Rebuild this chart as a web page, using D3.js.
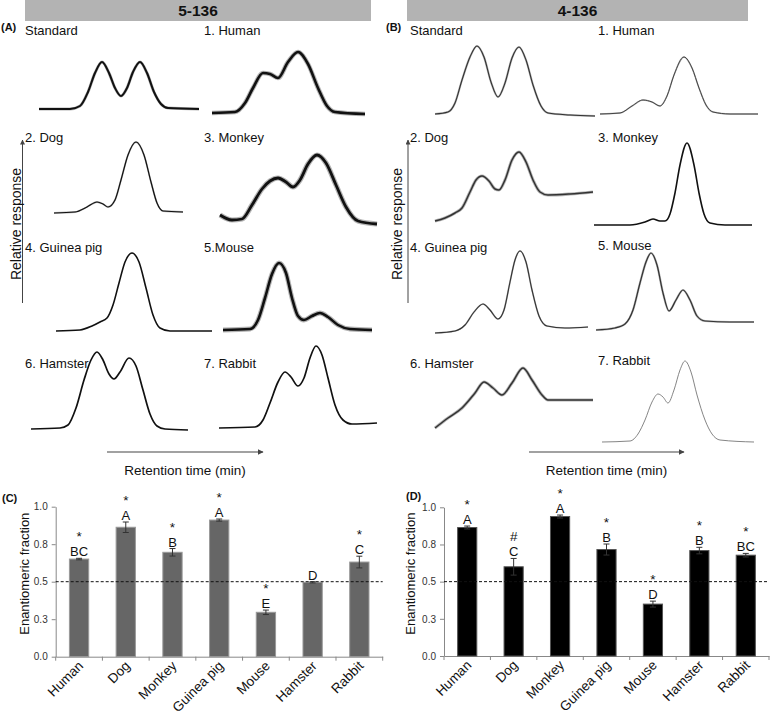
<!DOCTYPE html>
<html><head><meta charset="utf-8">
<script src="https://cdn.jsdelivr.net/npm/d3@7"></script>
<style>body{margin:0;background:#fff}svg{display:block}</style>
</head><body>
<script>
// ---------------- DATA ----------------
// Chromatogram traces: [retention time (a.u.), relative response (a.u.)]
const a_standard = [[0.9,11],[4.0,11],[5.0,14],[5.8,28],[6.5,47],[7.2,58],[7.9,47],[8.5,32],[9.1,24],[9.7,32],[10.3,48],[11.0,58],[11.7,47],[12.4,28],[13.1,16],[13.8,12],[16.9,11]];
const a_human    = [[0.2,7],[2.5,8],[3.5,17],[4.3,32],[5.3,47],[6.0,46],[6.8,42],[7.8,58],[8.8,68],[9.8,56],[10.8,32],[11.7,14],[12.5,8],[15.5,6]];
const a_dog      = [[2.4,17],[4.5,18],[5.7,23],[6.7,28],[7.3,26],[7.8,23],[8.5,30],[9.1,50],[9.8,75],[10.6,88],[11.4,75],[12.1,48],[12.7,27],[13.3,19],[15.3,18]];
const a_monkey   = [[1.0,15],[2.2,10],[3.2,11],[4.2,25],[5.2,41],[6.0,49],[6.8,52],[7.6,48],[8.3,43],[9.0,50],[9.8,66],[10.7,75],[11.6,67],[12.6,45],[13.6,23],[14.8,9],[16.7,6]];
const a_guinea   = [[2.6,9],[5.0,10],[6.2,14],[7.0,18],[7.7,22],[8.3,35],[8.9,57],[9.5,78],[10.2,87],[10.9,78],[11.6,52],[12.3,25],[13.0,12],[14.0,9],[18.2,9]];
const a_mouse    = [[1.3,10],[4.0,11],[4.8,20],[5.5,42],[6.2,66],[6.9,77],[7.6,67],[8.2,42],[8.8,24],[9.4,20],[10.2,24],[11.0,27],[11.8,23],[12.8,15],[14.0,11],[16.2,10]];
const a_hamster  = [[0.1,16],[3.0,17],[3.8,20],[4.6,37],[5.4,65],[6.1,85],[6.7,93],[7.3,85],[7.9,71],[8.4,66],[9.0,73],[9.9,87],[10.6,79],[11.3,55],[12.0,31],[12.7,19],[13.5,16],[15.8,15]];
const a_rabbit   = [[0.9,17],[4.5,18],[5.3,25],[6.0,42],[6.8,63],[7.5,73],[8.1,68],[8.8,59],[9.4,67],[10.0,87],[10.6,99],[11.2,90],[11.8,67],[12.5,40],[13.3,25],[14.2,21],[16.7,22]];

const b_standard = [[0.5,6],[1.8,8],[2.5,17],[3.2,40],[4.0,63],[4.7,74],[5.4,63],[6.1,38],[6.8,23],[7.5,37],[8.2,62],[8.9,73],[9.6,60],[10.3,35],[11.1,14],[11.8,7],[14.0,5],[16.5,4]];
const b_human    = [[0.8,6],[2.8,7],[4.0,14],[5.1,20],[6.0,18],[6.8,14],[7.5,24],[8.2,45],[9.2,63],[10.0,52],[10.7,32],[11.4,15],[12.1,8],[13.8,6],[16.6,6]];
const b_dog      = [[0.5,9],[1.5,12],[2.5,17],[3.2,22],[4.0,38],[4.6,50],[5.2,54],[5.9,49],[6.5,41],[6.9,40],[7.5,50],[8.2,70],[8.9,78],[9.6,68],[10.3,50],[11.0,38],[11.8,35],[14.0,36],[16.3,38]];
const b_monkey   = [[0.2,5],[3.8,5],[5.3,8],[6.1,11],[6.8,9],[7.3,9],[7.8,16],[8.3,37],[8.8,65],[9.5,87],[10.2,65],[10.7,37],[11.2,16],[11.8,7],[13.3,5],[16.0,5]];
const b_guinea   = [[0.5,7],[2.5,9],[3.5,15],[4.4,28],[5.3,36],[6.0,30],[6.8,21],[7.4,30],[8.0,58],[8.5,80],[9.0,89],[9.6,78],[10.2,50],[10.9,24],[11.7,14],[13.5,12],[15.8,13]];
const b_mouse    = [[0.4,10],[2.3,12],[3.3,16],[4.1,30],[4.8,57],[5.4,78],[5.9,87],[6.5,75],[7.1,47],[7.7,29],[8.4,40],[9.1,50],[9.8,40],[10.5,24],[11.3,19],[13.8,18],[16.2,18]];
const b_hamster  = [[0.5,17],[1.8,27],[3.2,37],[4.5,52],[5.4,63],[6.3,57],[7.2,50],[8.2,62],[9.3,77],[10.2,65],[11.2,50],[11.8,45],[16.3,45]];
const b_rabbit   = [[1.0,3],[3.8,4],[4.6,11],[5.3,25],[6.0,43],[6.6,51],[7.1,48],[7.6,42],[8.2,55],[8.8,75],[9.3,84],[9.9,73],[10.5,50],[11.3,25],[12.0,11],[12.8,5],[16.2,3]];

const traceTitlesA = ["Standard","1. Human","2. Dog","3. Monkey","4. Guinea pig","5.Mouse","6. Hamster","7. Rabbit"];
const traceTitlesB = ["Standard","1. Human","2. Dog","3. Monkey","4. Guinea pig","5. Mouse","6. Hamster","7. Rabbit"];
const compoundA = "5-136";
const compoundB = "4-136";

// Bar charts
const categories = ["Human","Dog","Monkey","Guinea pig","Mouse","Hamster","Rabbit"];
const fracC = [0.651, 0.863, 0.696, 0.911, 0.296, 0.496, 0.631];
const errC  = [0.005, 0.035, 0.025, 0.007, 0.015, 0.004, 0.039];
const sigC  = ["*","*","*","*","*","","*"];
const grpC  = ["BC","A","B","A","E","D","C"];
const fracD = [0.864, 0.600, 0.938, 0.716, 0.349, 0.709, 0.678];
const errD  = [0.010, 0.056, 0.010, 0.037, 0.020, 0.022, 0.012];
const sigD  = ["*","#","*","*","*","*","*"];
const grpD  = ["A","C","A","B","D","B","BC"];
const yTicks = [0, 0.25, 0.5, 0.75, 1.0];
const yTickLabels = ["0.0","0.3","0.5","0.8","1.0"];
const refLine = 0.5;

// ---------------- LAYOUT / STYLE ----------------
const FONT = '"Liberation Sans", Arial, Helvetica, sans-serif';
const W = 770, H = 717;
const svg = d3.select("body").append("svg").attr("width", W).attr("height", H)
  .style("font-family", FONT);
svg.append("rect").attr("width", W).attr("height", H).attr("fill", "#fff");

const defs = svg.append("defs");
defs.append("marker").attr("id","arr").attr("viewBox","0 0 10 10").attr("refX",9).attr("refY",5)
  .attr("markerWidth",5).attr("markerHeight",5).attr("orient","auto-start-reverse")
  .append("path").attr("d","M0,0L10,5L0,10z").attr("fill","#444");

// header bars
function header(x0, x1, label) {
  svg.append("rect").attr("x", x0).attr("y", 0).attr("width", x1 - x0).attr("height", 21).attr("fill", "#b3b3b3");
  svg.append("text").attr("x", (x0 + x1) / 2).attr("y", 16).attr("text-anchor", "middle")
    .attr("font-size", 15.5).attr("font-weight", "bold").attr("fill", "#111").text(label);
}
header(25, 371, compoundA);
header(407, 748, compoundB);

function panelLabel(x, y, t) {
  svg.append("text").attr("x", x).attr("y", y).attr("font-size", 11).attr("font-weight", "bold").attr("fill", "#111").text(t);
}
panelLabel(1, 31, "(A)");
panelLabel(386, 31, "(B)");
panelLabel(2, 502, "(C)");
panelLabel(406, 500, "(D)");

// chromatogram cells
const colLeftA = [30, 210], colLeftB = [430, 592];
const rowBottom = [120, 230, 340, 445];
const titleYs = [35, 142, 252, 368];
const titleXA = [25, 204], titleXB = [410, 598];
const tracesA = [a_standard, a_human, a_dog, a_monkey, a_guinea, a_mouse, a_hamster, a_rabbit];
const tracesB = [b_standard, b_human, b_dog, b_monkey, b_guinea, b_mouse, b_hamster, b_rabbit];
const styleA = [
  {w:2.0,c:"#111",n:1}, {w:2.6,c:"#111",n:2}, {w:1.2,c:"#111",n:0.6}, {w:2.8,c:"#111",n:2.4},
  {w:1.6,c:"#111",n:0}, {w:2.6,c:"#111",n:2.2}, {w:1.7,c:"#111",n:0}, {w:1.7,c:"#111",n:0}];
const styleB = [
  {w:1.1,c:"#333",n:1}, {w:1.0,c:"#444",n:0.5}, {w:1.5,c:"#333",n:1.6}, {w:1.6,c:"#111",n:0},
  {w:1.1,c:"#333",n:0.6}, {w:1.2,c:"#333",n:1}, {w:1.5,c:"#333",n:1.6}, {w:0.8,c:"#666",n:0}];
const titleYOffB = [0, 0, 0, 0, 0, -2, 0, -3];

function drawTraces(traces, titles, lefts, titleXs, styles, yOff) {
  traces.forEach((tr, i) => {
    const col = i % 2, row = Math.floor(i / 2);
    const x = d3.scaleLinear().domain([0, 16]).range([lefts[col], lefts[col] + 160]);
    const y = d3.scaleLinear().domain([0, 100]).range([rowBottom[row], rowBottom[row] - 100]);
    const line = d3.line().x(d => x(d[0])).y(d => y(d[1])).curve(d3.curveMonotoneX);
    const st = styles[i];
    if (st.n > 0) {
      svg.append("path").attr("d", line(tr)).attr("fill", "none").attr("stroke", "#777")
        .attr("stroke-opacity", 0.55).attr("stroke-width", st.w + st.n).attr("stroke-linejoin","round");
    }
    svg.append("path").attr("d", line(tr)).attr("fill", "none").attr("stroke", st.c)
      .attr("stroke-width", st.w).attr("stroke-linejoin","round");
    svg.append("text").attr("x", titleXs[col]).attr("y", titleYs[row] + (yOff ? yOff[i] : 0))
      .attr("font-size", 13).attr("fill", "#111").text(titles[i]);
  });
}
drawTraces(tracesA, traceTitlesA, colLeftA, titleXA, styleA, null);
drawTraces(tracesB, traceTitlesB, colLeftB, titleXB, styleB, titleYOffB);

// response axes and retention arrows
function respAxis(xl, xt) {
  svg.append("line").attr("x1", xl).attr("x2", xl).attr("y1", 303).attr("y2", 140)
    .attr("stroke", "#444").attr("stroke-width", 1).attr("marker-end", "url(#arr)");
  svg.append("text").attr("transform", `translate(${xt},224) rotate(-90)`).attr("text-anchor", "middle")
    .attr("font-size", 14).attr("fill", "#111").text("Relative response");
}
respAxis(22.5, 21);
respAxis(408, 402);
function timeAxis(x0, x1) {
  svg.append("line").attr("x1", x0).attr("x2", x1).attr("y1", 452).attr("y2", 452)
    .attr("stroke", "#444").attr("stroke-width", 1.2).attr("marker-end", "url(#arr)");
  svg.append("text").attr("x", (x0 + x1) / 2).attr("y", 475).attr("text-anchor", "middle")
    .attr("font-size", 13.5).attr("fill", "#111").text("Retention time (min)");
}
timeAxis(107, 263);
timeAxis(529, 684);

// bar charts
function drawBars(x0, x1, yb, yt, vals, errs, sigs, grps, fill, edge, titleX) {
  const x = d3.scaleBand().domain(categories).range([x0, x1]).paddingInner(0.587).paddingOuter(0.2935);
  const y = d3.scaleLinear().domain([0, 1]).range([yb, yt]);
  const g = svg.append("g");
  // y axis
  const ya = g.append("g").attr("transform", `translate(${x0},0)`)
    .call(d3.axisLeft(y).tickValues(yTicks).tickFormat((d, i) => yTickLabels[i]).tickSize(4).tickSizeOuter(0));
  ya.select(".domain").attr("stroke", "#888");
  ya.selectAll(".tick line").attr("stroke", "#888");
  ya.selectAll(".tick text").attr("font-size", 10).attr("fill", "#333").attr("font-family", FONT).attr("x", -8);
  // x axis
  const xa = g.append("g").attr("transform", `translate(0,${yb})`)
    .call(d3.axisBottom(x).tickSize(0).tickSizeOuter(0));
  xa.select(".domain").attr("stroke", "#888");
  xa.selectAll(".tick text").attr("font-size", 13.5).attr("fill", "#111").attr("font-family", FONT)
    .attr("text-anchor", "end").attr("dy", 0).attr("y", 0)
    .attr("transform", "translate(5,10) rotate(-45)");
  // boundary ticks
  const step = x.step();
  d3.range(categories.length + 1).forEach(i => {
    g.append("line").attr("x1", x0 + i * step).attr("x2", x0 + i * step).attr("y1", yb).attr("y2", yb + 4)
      .attr("stroke", "#888");
  });
  // bars
  g.selectAll("rect.bar").data(categories).join("rect").attr("class", "bar")
    .attr("x", d => x(d)).attr("width", x.bandwidth())
    .attr("y", (d, i) => y(vals[i])).attr("height", (d, i) => yb - y(vals[i]))
    .attr("fill", fill).attr("stroke", edge).attr("stroke-width", 1);
  // reference line
  g.append("line").attr("x1", x0).attr("x2", x1).attr("y1", y(refLine)).attr("y2", y(refLine))
    .attr("stroke", "#111").attr("stroke-width", 1).attr("stroke-dasharray", "3,2");
  // error bars + annotations
  categories.forEach((c, i) => {
    const cx = x(c) + x.bandwidth() / 2;
    const lo = y(vals[i] - errs[i]), hi = y(vals[i] + errs[i]);
    g.append("line").attr("x1", cx).attr("x2", cx).attr("y1", lo).attr("y2", hi).attr("stroke", "#333");
    [lo, hi].forEach(v => g.append("line").attr("x1", cx - 3).attr("x2", cx + 3).attr("y1", v).attr("y2", v).attr("stroke", "#333"));
    const lb = hi - 2;
    g.append("text").attr("x", cx).attr("y", lb).attr("text-anchor", "middle").attr("fill", "#111")
      .attr("font-size", 13).text(grps[i]);
    if (sigs[i]) {
      g.append("text").attr("x", cx).attr("y", lb - 15).attr("text-anchor", "middle").attr("fill", "#111")
        .attr("font-size", 13.5).text(sigs[i]);
    }
  });
  svg.append("text").attr("transform", `translate(${titleX},${(yb + yt) / 2 - 8}) rotate(-90)`)
    .attr("text-anchor", "middle").attr("font-size", 13).attr("fill", "#111").text("Enantiomeric fraction");
}
drawBars(55.7, 382.7, 656.7, 506.7, fracC, errC, sigC, grpC, "#666", "#9a9a9a", 29);
drawBars(444, 769, 656, 507.3, fracD, errD, sigD, grpD, "#000", "#555", 415);
</script>
</body></html>
